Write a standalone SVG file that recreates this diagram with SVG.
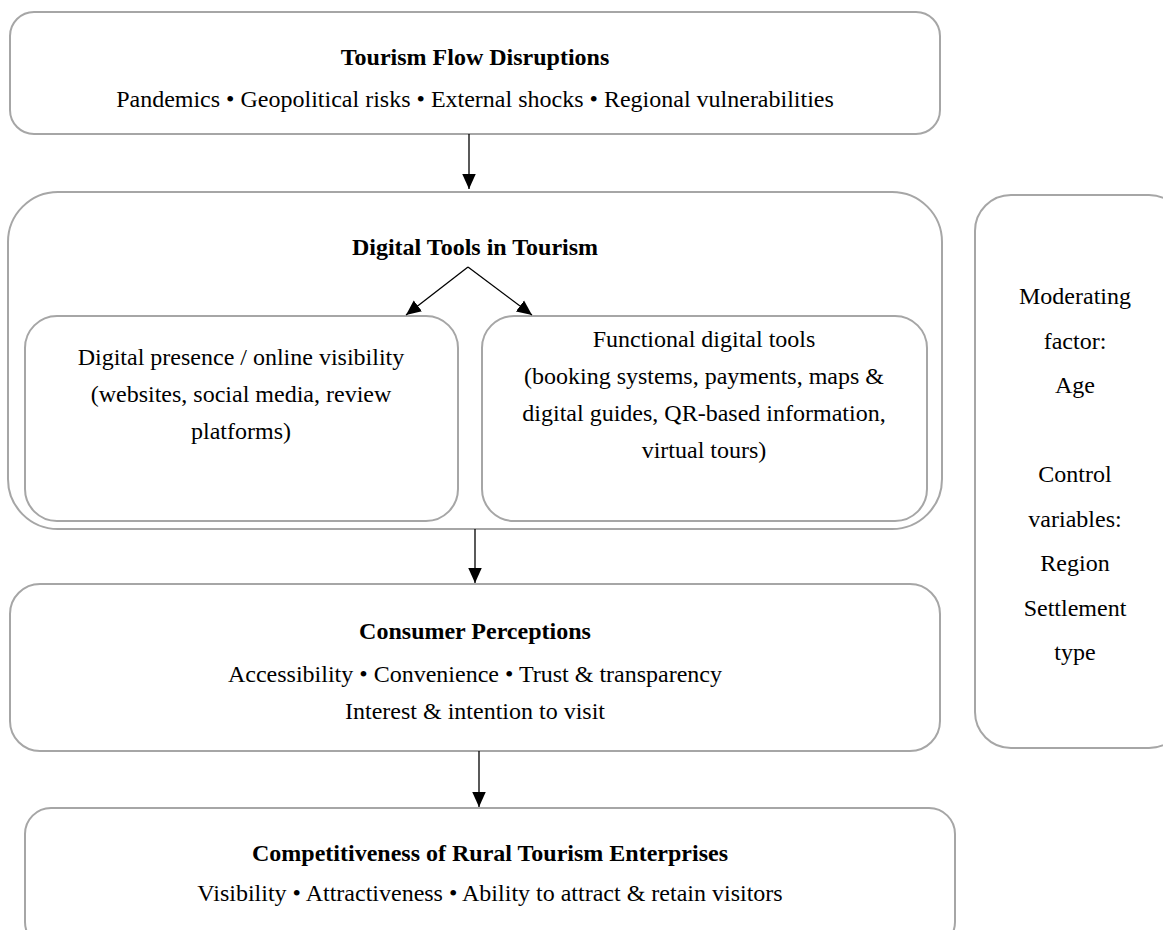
<svg xmlns="http://www.w3.org/2000/svg" width="1163" height="930" viewBox="0 0 1163 930">
<style>
.box{fill:#fff;stroke:#a6a6a6;stroke-width:2}
.t{font-family:"Liberation Serif","Times New Roman",serif;font-size:24px;fill:#000;text-anchor:middle}
.b{font-weight:bold}
.c{stroke:#000;stroke-width:1.3;fill:none}
</style>
<defs>
<marker id="ah" viewBox="0 0 10 10" refX="10" refY="5" markerWidth="15" markerHeight="15" markerUnits="userSpaceOnUse" orient="auto"><path d="M0,0.5 L10,5 L0,9.5 z" fill="#000"/></marker>
</defs>
<rect width="1163" height="930" fill="#fff"/>
<g id="disruptions">
<rect class="box" x="10" y="12" width="930" height="122" rx="24"/>
<text class="t b" x="475" y="65">Tourism Flow Disruptions</text>
<text class="t" x="475" y="107">Pandemics • Geopolitical risks • External shocks • Regional vulnerabilities</text>
</g>
<g id="digital-tools">
<rect class="box" x="8" y="192" width="934" height="337" rx="50"/>
<text class="t b" x="475" y="255">Digital Tools in Tourism</text>
</g>
<g id="presence">
<rect class="box" x="25" y="316" width="433" height="205" rx="32"/>
<text class="t" x="241" y="365">Digital presence / online visibility</text>
<text class="t" x="241" y="402">(websites, social media, review</text>
<text class="t" x="241" y="439">platforms)</text>
</g>
<g id="functional">
<rect class="box" x="482" y="316" width="445" height="205" rx="32"/>
<text class="t" x="704" y="347">Functional digital tools</text>
<text class="t" x="704" y="384">(booking systems, payments, maps &amp;</text>
<text class="t" x="704" y="421">digital guides, QR-based information,</text>
<text class="t" x="704" y="458">virtual tours)</text>
</g>
<g id="perceptions">
<rect class="box" x="10" y="584" width="930" height="167" rx="30"/>
<text class="t b" x="475" y="639">Consumer Perceptions</text>
<text class="t" x="475" y="682">Accessibility • Convenience • Trust &amp; transparency</text>
<text class="t" x="475" y="719">Interest &amp; intention to visit</text>
</g>
<g id="competitiveness">
<rect class="box" x="25" y="808" width="930" height="140" rx="26"/>
<text class="t b" x="490" y="861">Competitiveness of Rural Tourism Enterprises</text>
<text class="t" x="490" y="901">Visibility • Attractiveness • Ability to attract &amp; retain visitors</text>
</g>
<g id="moderators">
<rect class="box" x="975" y="195" width="210" height="553" rx="36"/>
<text class="t" x="1075" y="304">Moderating</text>
<text class="t" x="1075" y="349">factor:</text>
<text class="t" x="1075" y="393">Age</text>
<text class="t" x="1075" y="482">Control</text>
<text class="t" x="1075" y="527">variables:</text>
<text class="t" x="1075" y="571">Region</text>
<text class="t" x="1075" y="616">Settlement</text>
<text class="t" x="1075" y="660">type</text>
</g>
<g id="connectors">
<line class="c" x1="469" y1="134" x2="469" y2="189" marker-end="url(#ah)"/>
<line class="c" x1="468" y1="267" x2="406" y2="315" marker-end="url(#ah)"/>
<line class="c" x1="468" y1="267" x2="532" y2="315" marker-end="url(#ah)"/>
<line class="c" x1="475" y1="529" x2="475" y2="583" marker-end="url(#ah)"/>
<line class="c" x1="479" y1="751" x2="479" y2="807" marker-end="url(#ah)"/>
</g>
</svg>
